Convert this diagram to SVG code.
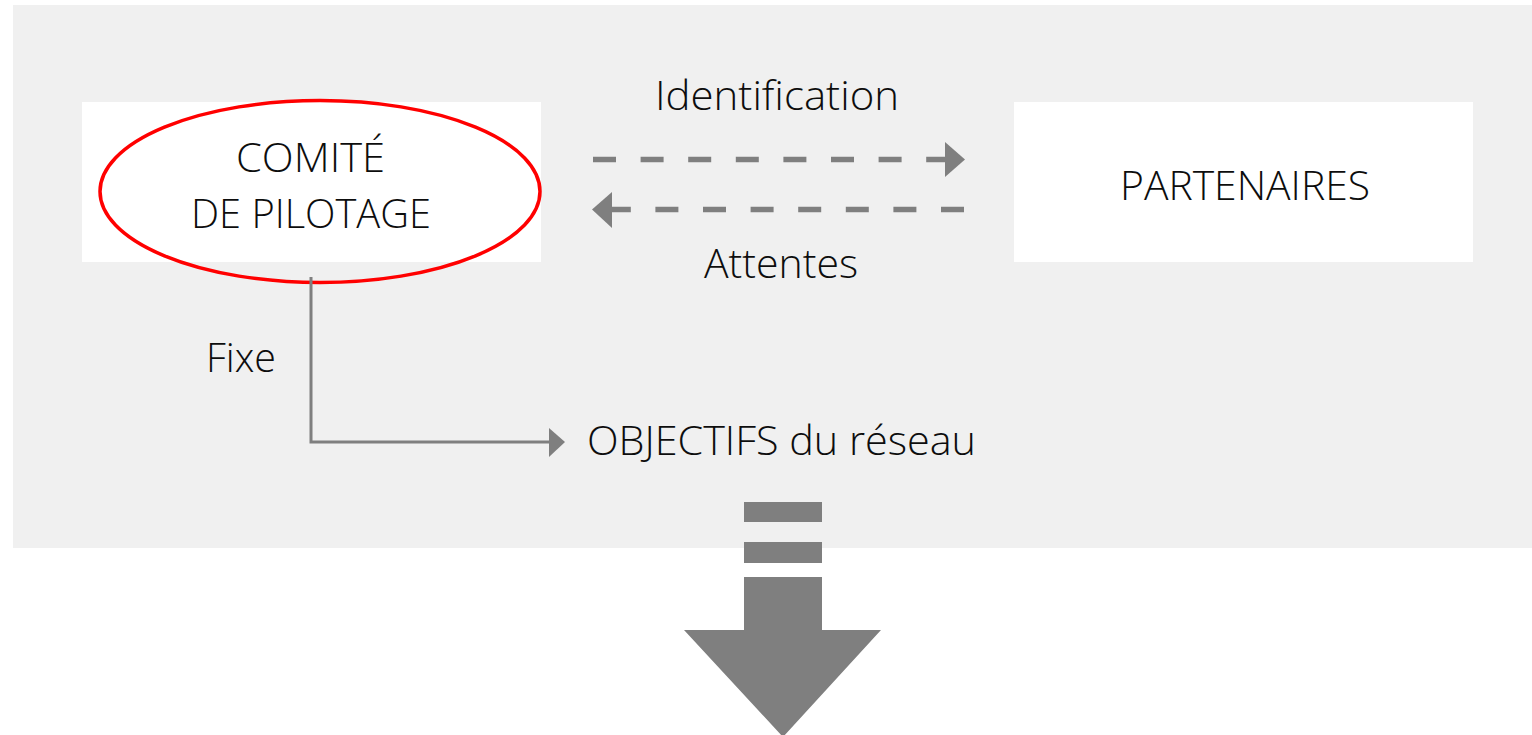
<svg xmlns="http://www.w3.org/2000/svg" width="1532" height="735" viewBox="0 0 1532 735">
<defs>
<style>
.t{font-family:"Open Sans","Liberation Sans",sans-serif;font-weight:300;font-size:40px;fill:#0d0d0d}
.box{fill:#ffffff}
.dash{stroke:#7f7f7f;stroke-width:5.5;stroke-dasharray:23 24.6;fill:none}
.ah{fill:#7f7f7f}
</style>
</defs>
<rect x="0" y="0" width="1532" height="735" fill="#ffffff"/>
<rect id="background" x="13" y="5" width="1519" height="543" fill="#f0f0f0"/>
<g id="comite">
<rect class="box" x="82" y="102" width="459" height="160"/>
<ellipse cx="320" cy="191.5" rx="220" ry="91" fill="none" stroke="#ff0000" stroke-width="3.5"/>
<text class="t" x="236" y="172" textLength="149" lengthAdjust="spacingAndGlyphs">COMITÉ</text>
<text class="t" x="191" y="228" textLength="240" lengthAdjust="spacingAndGlyphs">DE PILOTAGE</text>
</g>
<g id="partenaires">
<rect class="box" x="1014" y="102" width="459" height="160"/>
<text class="t" x="1120" y="200" textLength="250" lengthAdjust="spacingAndGlyphs">PARTENAIRES</text>
</g>
<g id="objectifs">
<text class="t" x="587" y="455" textLength="389" lengthAdjust="spacingAndGlyphs">OBJECTIFS du réseau</text>
</g>
<g id="connectors">
<line class="dash" x1="593" y1="159.5" x2="946" y2="159.5"/>
<polygon class="ah" points="945,142 965,159.5 945,177"/>
<line class="dash" x1="964" y1="209.5" x2="612" y2="209.5"/>
<polygon class="ah" points="612,192 592,209.5 612,228"/>
<polyline points="311,277 311,442 551,442" fill="none" stroke="#7f7f7f" stroke-width="3"/>
<polygon class="ah" points="549,428 565,442 549,457"/>
<text class="t" x="655" y="110" textLength="244" lengthAdjust="spacingAndGlyphs">Identification</text>
<text class="t" x="704" y="278" textLength="154" lengthAdjust="spacingAndGlyphs">Attentes</text>
<text class="t" x="206" y="372" textLength="70" lengthAdjust="spacingAndGlyphs">Fixe</text>
</g>
<g id="big-arrow" fill="#7f7f7f">
<rect x="744" y="502" width="78" height="20"/>
<rect x="744" y="542" width="78" height="21"/>
<polygon points="744,577 822,577 822,630 881,630 783,737 684,630 744,630"/>
</g>
</svg>
